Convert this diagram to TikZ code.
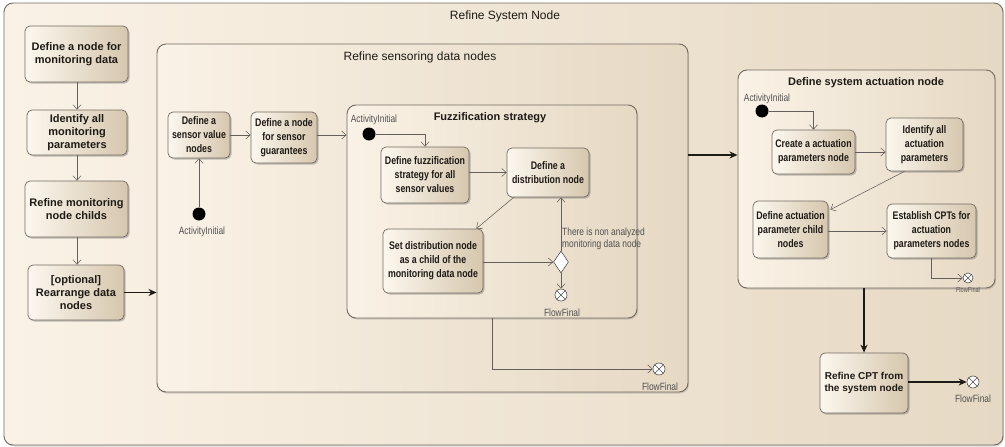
\documentclass[tikz,border=0pt]{standalone}
\usepackage{fontspec}
\setmainfont{Liberation Sans}
\newfontfamily\narrowfont[FakeStretch=0.8]{Liberation Sans}
\usetikzlibrary{arrows.meta,shapes.geometric,shadows,calc}

\definecolor{inkcol}{RGB}{30,26,22}
\definecolor{linecol}{RGB}{100,95,90}
\definecolor{framecol}{RGB}{115,107,97}
\definecolor{bgleft}{RGB}{250,242,230}
\definecolor{bgright}{RGB}{230,217,196}
\definecolor{boxleft}{RGB}{252,247,238}
\definecolor{boxright}{RGB}{214,199,174}
\definecolor{labelcol}{RGB}{80,80,80}

\tikzset{
  region/.style={draw=framecol, line width=0.9pt, rounded corners=9pt,
    left color=bgleft, right color=bgright, inner sep=0,
    drop shadow={shadow xshift=1pt, shadow yshift=-1.5pt, opacity=0.25, fill=black!60}},
  actbox/.style={draw=framecol, line width=0.7pt, rounded corners=5pt,
    left color=boxleft, right color=boxright,
    drop shadow={shadow xshift=1.5pt, shadow yshift=-1.5pt, opacity=0.4, fill=black!60},
    align=center, inner sep=1pt, text=inkcol},
  wideact/.style={actbox, font=\fontsize{11}{13.3}\selectfont\bfseries},
  cptact/.style={actbox, font=\fontsize{10}{12.5}\selectfont\bfseries},
  narrowact/.style={actbox, font=\narrowfont\fontsize{11}{14}\selectfont\bfseries},
  flow/.style={draw=linecol, line width=0.55pt, -{Straight Barb[length=4.5pt,width=8pt]}},
  mainflow/.style={draw=inkcol, line width=1.4pt, -{Stealth[length=8pt,width=7pt,inset=2.5pt]}},
  startdot/.style={circle, fill=black, inner sep=0, minimum size=13pt},
  finaldot/.style={circle, draw=labelcol, fill=white, line width=0.6pt, inner sep=0, minimum size=12pt},
  decision/.style={diamond, draw=labelcol, fill=white, line width=0.6pt, inner sep=0,
    minimum width=15pt, minimum height=22pt},
  tag/.style={font=\narrowfont\fontsize{10.5}{12}\selectfont, text=labelcol, inner sep=0},
  heading/.style={font=\fontsize{12}{14}\selectfont, text=inkcol, inner sep=0},
  boldheading/.style={font=\fontsize{11}{13}\selectfont\bfseries, text=inkcol, inner sep=0},
}
\newcommand\crossfinal[1]{\draw[labelcol, line width=0.6pt] (#1.45) -- (#1.225) (#1.135) -- (#1.315);}

\begin{document}
\begin{tikzpicture}[x=1pt, y=-1pt]
  \fill[white] (0,0) rectangle (1005,447);
  \useasboundingbox (0,0) rectangle (1005,447);

  % outer activity
  \node[region, minimum width=999pt, minimum height=442pt] (sys) at (503.5,224) {};
  \node[heading] (systitle) at (505,16) {Refine System Node};

  % left column
  \node[wideact, minimum width=103pt, minimum height=56pt] (m1) at (76.5,54) {Define a node for\\monitoring data};
  \node[wideact, minimum width=100pt, minimum height=45pt] (m2) at (77,132.5) {Identify all\\monitoring\\parameters};
  \node[wideact, minimum width=103pt, minimum height=56pt] (m3) at (76.5,209) {Refine monitoring\\node childs};
  \node[wideact, minimum width=96pt, minimum height=55pt] (m4) at (76,292.5) {[optional]\\Rearrange data\\nodes};
  \draw[flow] (m1.south -| m2.north) -- (m2.north);
  \draw[flow] (m2.south) -- (m2.south |- m3.north);
  \draw[flow] (m3.south -| m2.south) -- (m2.south |- m4.north);

  % sensoring data nodes
  \node[region, minimum width=531pt, minimum height=348pt] (sens) at (422.5,218) {};
  \node[heading] (senstitle) at (420,57) {Refine sensoring data nodes};
  \draw[mainflow] (m4.east) -- (m4.east -| sens.west);

  \node[narrowact, minimum width=62pt, minimum height=46pt] (s1) at (199,135) {Define a\\sensor value\\nodes};
  \node[narrowact, minimum width=66pt, minimum height=51pt] (s2) at (284,137.5) {Define a node\\for sensor\\guarantees};
  \node[startdot] (init1) at (199,214) {};
  \node[tag] (init1tag) at (202,232) {ActivityInitial};
  \draw[flow] (init1) -- (s1.south);
  \draw[flow] (s1.east) -- (s1.east -| s2.west);

  % fuzzification strategy
  \node[region, minimum width=290pt, minimum height=213pt] (fuzz) at (492,211.5) {};
  \node[boldheading] (fuzztitle) at (490,118) {Fuzzification strategy};
  \draw[flow] (s2.east |- s1.east) -- (s1.east -| fuzz.west);

  \node[tag] (init2tag) at (374,120) {ActivityInitial};
  \node[startdot] (init2) at (369,134) {};
  \node[narrowact, minimum width=88pt, minimum height=56pt] (f1) at (425,175) {Define fuzzification\\strategy for all\\sensor values};
  \node[narrowact, minimum width=82pt, minimum height=49pt] (f2) at (548,172.5) {Define a\\distribution node};
  \node[narrowact, minimum width=100pt, minimum height=64pt] (f3) at (433,261) {Set distribution node\\as a child of the\\monitoring data node};
  \node[decision] (dec) at (561,262) {};
  \node[finaldot] (ff1) at (561,295) {};
  \crossfinal{ff1}
  \node[tag] (ff1tag) at (562,313) {FlowFinal};
  \node[tag, align=left, anchor=west, font=\narrowfont\fontsize{10.5}{12.5}\selectfont] (guard) at (562,239)
    {There is non analyzed\\monitoring data node};

  \draw[flow] (init2) -| (f1.north);
  \draw[flow] (f1.east |- f2.west) -- (f2.west);
  \draw[flow] ([xshift=7pt]f2.south west) -- ([xshift=-7pt]f3.north east);
  \draw[flow] (f3.east |- dec.west) -- (dec.west);
  \draw[flow] (dec.north) -- (dec.north |- f2.south);
  \draw[flow] (dec.south) -- (ff1.north);

  \node[finaldot] (ff2) at (659,369) {};
  \crossfinal{ff2}
  \node[tag] (ff2tag) at (660,387) {FlowFinal};
  \draw[flow] (fuzz.south) |- (ff2.west);

  % system actuation node
  \node[region, minimum width=257pt, minimum height=218pt] (act) at (866.5,179) {};
  \node[boldheading] (acttitle) at (866,83) {Define system actuation node};
  \draw[mainflow] (sens.east |- 0,155) -- (act.west |- 0,155);

  \node[tag] (init3tag) at (767,99) {ActivityInitial};
  \node[startdot] (init3) at (762,111) {};
  \node[narrowact, minimum width=83pt, minimum height=44pt] (a1) at (813.5,152) {Create a actuation\\parameters node};
  \node[narrowact, minimum width=77pt, minimum height=53pt] (a2) at (924.5,144.5) {Identify all\\actuation\\parameters};
  \node[narrowact, minimum width=75pt, minimum height=57pt] (a3) at (790.5,229.5) {Define actuation\\parameter child\\nodes};
  \node[narrowact, minimum width=89pt, minimum height=54pt] (a4) at (931.5,231) {Establish CPTs for\\actuation\\parameters nodes};
  \node[finaldot, minimum size=10pt] (ff3) at (968,278) {};
  \crossfinal{ff3}
  \node[tag, font=\narrowfont\fontsize{7}{8}\selectfont] (ff3tag) at (968,290) {FlowFinal};

  \draw[flow] (init3) -| (a1.north);
  \draw[flow] (a1.east) -- (a1.east -| a2.west);
  \draw[flow] ([xshift=-20pt]a2.south) -- ($(a3.north east)+(2,9)$);
  \draw[flow] (a3.east |- a4.west) -- (a4.west);
  \draw[flow] (a4.south) |- (ff3.west);

  % final refinement
  \node[cptact, minimum width=88pt, minimum height=60pt] (cpt) at (864,383) {Refine CPT from\\the system node};
  \draw[mainflow] (cpt.north |- act.south) -- (cpt.north);
  \node[finaldot] (ff4) at (973,382) {};
  \crossfinal{ff4}
  \node[tag] (ff4tag) at (973,399) {FlowFinal};
  \draw[mainflow] (cpt.east |- ff4.west) -- (ff4.west);
\end{tikzpicture}
\end{document}
